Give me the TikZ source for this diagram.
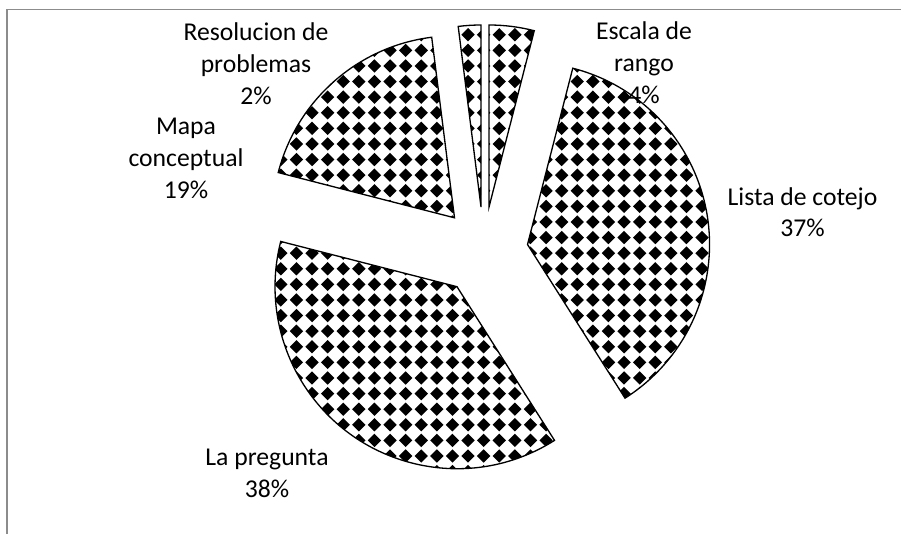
\documentclass[tikz,border=0pt]{standalone}
\usepackage{fontspec}
\setmainfont{Carlito}
\usetikzlibrary{patterns.meta}
\tikzdeclarepattern{
  name=diamondgrid,
  type=uncolored,
  bottom left={(-4.44pt,-4.44pt)},
  top right={(4.44pt,4.44pt)},
  tile size={(8.88pt,8.88pt)},
  code={\fill (0,-3.8pt) -- (3.8pt,0) -- (0,3.8pt) -- (-3.8pt,0) -- cycle;}
}
\definecolor{framecol}{RGB}{140,140,140}
\tikzset{every picture/.style={x=0.02cm,y=-0.02cm}}
\tikzset{slice/.style={draw=black,line width=0.75pt,pattern=diamondgrid,pattern color=black}}
\tikzset{lbl/.style={align=center,inner sep=0pt,anchor=base,font=\fontsize{14.6}{18}\selectfont}}
\tikzset{frame/.style={draw=framecol,line width=0.9pt}}

\begin{document}
\begin{tikzpicture}
\useasboundingbox (0,0) rectangle (901,534);
\draw [frame] (7,534) -- (7,9.5) -- (901,9.5);

\coordinate (escala) at (489,207);
\coordinate (lista) at (527.5,244.5);
\coordinate (pregunta) at (457,286.7);
\coordinate (mapa) at (454.5,217.8);
\coordinate (resol) at (481,207);

\draw [slice] (escala) -- ++(-90:182) arc [start angle=-90, end angle=-75.6, radius=182] -- cycle;
\draw [slice] (lista) -- ++(-75.6:182) arc [start angle=-75.6, end angle=57.6, radius=182] -- cycle;
\draw [slice] (pregunta) -- ++(57.6:182) arc [start angle=57.6, end angle=194.4, radius=182] -- cycle;
\draw [slice] (mapa) -- ++(194.4:182) arc [start angle=194.4, end angle=262.8, radius=182] -- cycle;
\draw [slice] (resol) -- ++(262.8:182) arc [start angle=262.8, end angle=270, radius=182] -- cycle;

\node [lbl] (escalalbl) at (644,103) {Escala de\\rango\\4\%};
\node [lbl] (listalbl) at (802.5,236.7) {Lista de cotejo\\37\%};
\node [lbl] (preglbl) at (267,497) {La pregunta\\38\%};
\node [lbl] (mapalbl) at (186,198) {Mapa\\conceptual\\19\%};
\node [lbl] (resollbl) at (256,104) {Resolucion de\\problemas\\2\%};
\end{tikzpicture}
\end{document}
